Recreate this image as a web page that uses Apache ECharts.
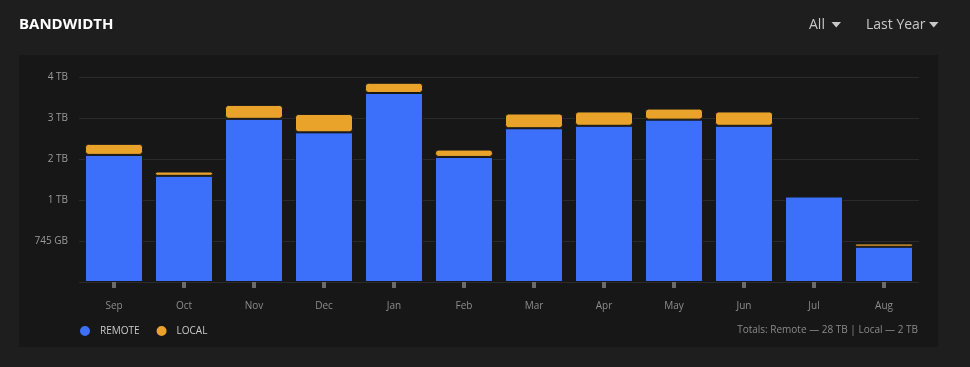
<!DOCTYPE html>
<html>
<head>
<meta charset="utf-8">
<script src="https://cdn.jsdelivr.net/npm/echarts@6/dist/echarts.min.js"></script>
<style>
html,body{margin:0;padding:0;background:#1e1e1e;}
#chart{width:970px;height:367px;}
</style>
</head>
<body>
<div id="chart"></div>
<script>
var categories = ['Sep','Oct','Nov','Dec','Jan','Feb','Mar','Apr','May','Jun','Jul','Aug'];
var remoteValues = [3.10, 2.59, 3.98, 3.65, 4.61, 3.05, 3.75, 3.81, 3.96, 3.81, 2.085, 0.86];
var localValues = [0.27, 0.105, 0.34, 0.45, 0.25, 0.18, 0.36, 0.35, 0.27, 0.35, 0, 0.08];
var yTickLabels = ['', '745 GB', '1 TB', '2 TB', '3 TB', '4 TB'];
var seriesNames = ['REMOTE', 'LOCAL'];
var titleText = 'BANDWIDTH';
var filterTexts = ['All', 'Last Year'];
var totalsText = 'Totals: Remote \u2014 28 TB | Local \u2014 2 TB';

var FONT = '"Open Sans", "Noto Sans", sans-serif';
var PANEL = '#171717';
var BLUE = '#3c70fb';
var ORANGE = '#e9a32b';

var chart = echarts.init(document.getElementById('chart'), null, {renderer: 'canvas'});
chart.setOption({
  backgroundColor: '#1e1e1e',
  animation: false,
  textStyle: {fontFamily: FONT},
  grid: {left: 79, right: 51, top: 77, bottom: 85, containLabel: false},
  legend: {
    left: 78, top: 324, padding: 0,
    icon: 'circle',
    itemWidth: 20, itemHeight: 12, itemGap: 15,
    data: seriesNames,
    textStyle: {color: '#c9c9c9', fontSize: 10, fontFamily: FONT},
    selectedMode: false
  },
  xAxis: {
    type: 'category',
    data: categories,
    axisLine: {show: false},
    axisTick: {show: true, alignWithLabel: true, length: 6, lineStyle: {color: '#6b6b6b', width: 4}},
    axisLabel: {color: '#8c8c8c', fontSize: 10, margin: 19, fontFamily: FONT},
    splitLine: {show: false}
  },
  yAxis: {
    type: 'value',
    min: 0, max: 5, interval: 1,
    axisLine: {show: false},
    axisTick: {show: false},
    axisLabel: {
      color: '#9a9a9a', fontSize: 10, margin: 11, fontFamily: FONT,
      formatter: function (v) { return yTickLabels[Math.round(v)] || ''; }
    },
    splitLine: {lineStyle: {color: '#2a2a2a', width: 1}}
  },
  series: [
    {
      name: seriesNames[0], type: 'bar', stack: 'bw', barWidth: 58,
      data: remoteValues,
      itemStyle: {color: BLUE, borderColor: PANEL, borderWidth: 1, borderRadius: 0}
    },
    {
      name: seriesNames[1], type: 'bar', stack: 'bw', barWidth: 58,
      data: localValues,
      itemStyle: {color: ORANGE, borderColor: PANEL, borderWidth: 1, borderRadius: 3}
    }
  ],
  graphic: [
    {type: 'rect', z: -100, silent: true, shape: {x: 19, y: 55, width: 919, height: 292}, style: {fill: PANEL}},
    {type: 'text', x: 19, y: 25, style: {text: titleText, fill: '#ffffff', font: 'bold 15px ' + FONT, verticalAlign: 'middle'}},
    {type: 'text', x: 809, y: 25, style: {text: filterTexts[0], fill: '#c8c8c8', font: '14px ' + FONT, verticalAlign: 'middle'}},
    {type: 'polygon', shape: {points: [[831.5, 22], [841, 22], [836.25, 27.5]]}, style: {fill: '#c8c8c8'}},
    {type: 'text', x: 866, y: 25, style: {text: filterTexts[1], fill: '#c8c8c8', font: '14px ' + FONT, verticalAlign: 'middle'}},
    {type: 'polygon', shape: {points: [[929, 22], [938.5, 22], [933.75, 27.5]]}, style: {fill: '#c8c8c8'}},
    {type: 'text', x: 918, y: 330, style: {text: totalsText, fill: '#8a8a8a', font: '10px ' + FONT, align: 'right', verticalAlign: 'middle'}}
  ]
});
</script>
</body>
</html>
